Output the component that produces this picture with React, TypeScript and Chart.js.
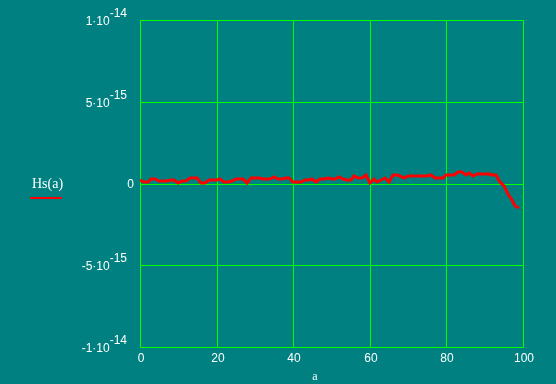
import React, { useEffect, useRef } from "react";
import { Chart, registerables } from "chart.js";

Chart.register(...registerables);

// a = 0..99
const aValues: number[] = Array.from({ length: 100 }, (_, i) => i);
// Hs(a) in units of 1e-15
const hsValuesE15: number[] = [
  0.2, 0.1, 0.1, 0.25, 0.25, 0.15, 0.15, 0.15, 0.2, 0.2,
  0.05, 0.15, 0.15, 0.35, 0.35, 0.35, 0.05, 0.05, 0.2, 0.2,
  0.2, 0.3, 0.1, 0.1, 0.15, 0.25, 0.25, 0.25, 0.05, 0.35,
  0.35, 0.35, 0.25, 0.25, 0.25, 0.4, 0.25, 0.25, 0.35, 0.35,
  0.1, 0.1, 0.1, 0.2, 0.2, 0.25, 0.1, 0.25, 0.25, 0.35,
  0.25, 0.25, 0.4, 0.3, 0.2, 0.2, 0.45, 0.35, 0.35, 0.55,
  0.05, 0.25, 0.1, 0.2, 0.35, 0.1, 0.55, 0.55, 0.45, 0.35,
  0.45, 0.45, 0.45, 0.45, 0.45, 0.45, 0.5, 0.35, 0.35, 0.35,
  0.5, 0.5, 0.55, 0.7, 0.7, 0.55, 0.65, 0.45, 0.6, 0.6,
  0.6, 0.6, 0.5, 0.5, 0.1, -0.15, -0.65, -1.0, -1.4, -1.5,
];

const xTickValues: number[] = [0, 20, 40, 60, 80, 100];
const xTickLabels: string[] = ["0", "20", "40", "60", "80", "100"];
const yTickValues: number[] = [10, 5, 0, -5, -10];
const yTickBases: string[] = ["1\u00b710", "5\u00b710", "0", "-5\u00b710", "-1\u00b710"];
const yTickExps: string[] = ["-14", "-15", "", "-15", "-14"];
const seriesLabel = "Hs(a)";
const xTitle = "a";

const labelPlugin = {
  id: "mathcadLabels",
  afterDraw(chart: any) {
    const ctx = chart.ctx as CanvasRenderingContext2D;
    const xs = chart.scales.x;
    const ys = chart.scales.y;
    ctx.save();
    ctx.fillStyle = "#ffffff";
    ctx.font = "12px 'Liberation Sans', Arial, sans-serif";
    ctx.textBaseline = "middle";
    // x tick labels
    ctx.textAlign = "center";
    xTickValues.forEach((v, i) => {
      ctx.fillText(xTickLabels[i], xs.getPixelForValue(v) + 1, 359);
    });
    // y tick labels
    yTickValues.forEach((v, i) => {
      const py = ys.getPixelForValue(v);
      const exp = yTickExps[i];
      const base = yTickBases[i];
      if (!exp) {
        ctx.textAlign = "right";
        ctx.fillText(base, 134, py + 0.5);
        return;
      }
      const right = 127;
      ctx.textAlign = "right";
      ctx.fillText(exp, right, py - 6);
      const ew = ctx.measureText(exp).width;
      ctx.fillText(base, right - ew, py + 1.5);
    });
    // x title
    ctx.textAlign = "center";
    ctx.font = "12px 'Liberation Serif', 'Times New Roman', serif";
    ctx.fillText(xTitle, 315, 377);
    // legend
    ctx.font = "14px 'Liberation Serif', 'Times New Roman', serif";
    ctx.textAlign = "left";
    ctx.fillText(seriesLabel, 32, 184);
    ctx.strokeStyle = "#ff0000";
    ctx.lineWidth = 2;
    ctx.beginPath();
    ctx.moveTo(30, 198);
    ctx.lineTo(62, 198);
    ctx.stroke();
    ctx.restore();
  },
};

export default function App() {
  const ref = useRef<HTMLCanvasElement | null>(null);
  useEffect(() => {
    document.body.style.margin = "0";
    const canvas = ref.current!;
    const chart = new Chart(canvas, {
      type: "line",
      data: {
        datasets: [
          {
            label: seriesLabel,
            data: aValues.map((a, i) => ({ x: a, y: hsValuesE15[i] })),
            borderColor: "#ff0000",
            borderWidth: 3,
            pointRadius: 0,
            tension: 0,
            fill: false,
          },
        ],
      },
      options: {
        responsive: false,
        animation: false,
        layout: { padding: { left: 140, right: 33, top: 20, bottom: 37 } },
        plugins: { legend: { display: false }, tooltip: { enabled: false } },
        scales: {
          x: {
            type: "linear",
            min: 0,
            max: 100,
            alignToPixels: true,
            ticks: { display: false, stepSize: 20 },
            afterBuildTicks: (s: any) => {
              s.ticks = xTickValues.map((v) => ({ value: v }));
            },
            grid: { color: "#00ff00", lineWidth: 1, drawTicks: false },
            border: { display: true, color: "#00ff00", width: 1 },
          },
          y: {
            type: "linear",
            min: -10,
            max: 10,
            alignToPixels: true,
            ticks: { display: false, stepSize: 5 },
            afterBuildTicks: (s: any) => {
              s.ticks = yTickValues.map((v) => ({ value: v }));
            },
            grid: { color: "#00ff00", lineWidth: 1, drawTicks: false },
            border: { display: true, color: "#00ff00", width: 1 },
          },
        },
      },
      plugins: [labelPlugin],
    });
    return () => chart.destroy();
  }, []);
  return (
    <div style={{ position: "fixed", left: 0, top: 0, width: 556, height: 384, background: "#008080" }}>
      <canvas ref={ref} width={556} height={384} style={{ display: "block" }} />
    </div>
  );
}
